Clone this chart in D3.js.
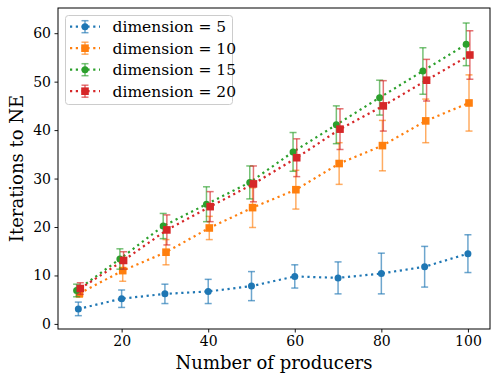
<!DOCTYPE html>
<html>
<head>
<meta charset="utf-8">
<script src="https://cdn.jsdelivr.net/npm/d3@7"></script>
<style>
  body { margin: 0; background: #fff; }
  svg { display: block; }
</style>
</head>
<body>
<script>
// data
const producers = [10, 20, 30, 40, 50, 60, 70, 80, 90, 100];
const dims = ["dimension = 5", "dimension = 10", "dimension = 15", "dimension = 20"];

const dim5 = [3.1, 5.2, 6.2, 6.7, 7.8, 9.8, 9.5, 10.4, 11.8, 14.5];
const dim5Err = [1.4, 1.8, 2.0, 2.5, 3.0, 2.4, 3.3, 4.2, 4.2, 3.9];
const dim10 = [6.3, 11.0, 14.8, 19.8, 24.0, 27.7, 33.1, 36.8, 41.9, 45.6];
const dim10Err = [0.8, 2.2, 2.6, 2.4, 4.1, 4.0, 4.3, 5.2, 4.5, 5.8];
const dim15 = [6.9, 13.4, 20.2, 24.7, 29.2, 35.5, 41.1, 46.7, 52.2, 57.7];
const dim15Err = [1.3, 2.1, 2.6, 3.6, 3.4, 4.0, 3.9, 3.6, 4.8, 4.4];
const dim20 = [7.3, 13.1, 19.4, 24.2, 28.9, 34.3, 40.2, 45.0, 50.3, 55.5];
const dim20Err = [1.2, 1.8, 3.1, 3.1, 3.7, 3.9, 4.2, 5.2, 4.3, 5.0];

const xTicks = [20, 40, 60, 80, 100];
const yTicks = [0, 10, 20, 30, 40, 50, 60];

let canvasW = 499;
let canvasH = 384;
let mLeft = 58, mRight = 490, mTop = 8, mBottom = 329;

let colors = ["#1f77b4", "#ff7f0e", "#2ca02c", "#d62728"];
let shapes = ["circle", "square", "circle", "square"];
let shift = [0, 0.25, -0.4, 0.45]; // small x nudge seen in the picture
let errs = [dim5Err, dim10Err, dim15Err, dim20Err];

let series = [dim5, dim10, dim15, dim20].map((vals, i) => ({
  name: dims[i],
  color: colors[i],
  shape: shapes[i],
  pts: vals.map((v, j) => ({ x: producers[j] + shift[i], y: v, e: errs[i][j] }))
}));

let xScale = d3.scaleLinear().domain([5.3, 105.1]).range([mLeft, mRight]);
let yScale = d3.scaleLinear().domain([-1.05, 65.2]).range([mBottom, mTop]);

let svg = d3.select("body")
  .append("svg")
    .attr("width", canvasW)
    .attr("height", canvasH)
    .style("font-family", "'DejaVu Serif', serif");

let plot = svg.append("g");

let line = d3.line().x(d => xScale(d.x)).y(d => yScale(d.y));

series.forEach(s => {
  let g = plot.append("g");
  g.append("path")
    .datum(s.pts)
    .attr("d", line)
    .attr("fill", "none")
    .attr("stroke", s.color)
    .attr("stroke-width", 2.2)
    .attr("stroke-dasharray", "2.2,3.6");

  let bars = g.selectAll(".eb").data(s.pts).enter().append("g")
    .attr("stroke", s.color)
    .attr("stroke-opacity", 0.65)
    .attr("stroke-width", 1.5);
  bars.append("line")
    .attr("x1", d => xScale(d.x)).attr("x2", d => xScale(d.x))
    .attr("y1", d => yScale(d.y - d.e)).attr("y2", d => yScale(d.y + d.e));
  bars.append("line")
    .attr("x1", d => xScale(d.x) - 3.5).attr("x2", d => xScale(d.x) + 3.5)
    .attr("y1", d => yScale(d.y + d.e)).attr("y2", d => yScale(d.y + d.e));
  bars.append("line")
    .attr("x1", d => xScale(d.x) - 3.5).attr("x2", d => xScale(d.x) + 3.5)
    .attr("y1", d => yScale(d.y - d.e)).attr("y2", d => yScale(d.y - d.e));

  if (s.shape == "circle") {
    g.selectAll(".mk").data(s.pts).enter().append("circle")
      .attr("cx", d => xScale(d.x))
      .attr("cy", d => yScale(d.y))
      .attr("r", 3.5)
      .attr("fill", s.color);
  } else {
    g.selectAll(".mk").data(s.pts).enter().append("rect")
      .attr("x", d => xScale(d.x) - 3.8)
      .attr("y", d => yScale(d.y) - 3.8)
      .attr("width", 7.6)
      .attr("height", 7.6)
      .attr("fill", s.color);
  }
});

// axes
const xAxis = svg.append("g")
  .attr("transform", "translate(0," + mBottom + ")")
  .call(d3.axisBottom(xScale).tickValues(xTicks).tickSize(3.5).tickPadding(3.5));
const yAxis = svg.append("g")
  .attr("transform", "translate(" + mLeft + ",0)")
  .call(d3.axisLeft(yScale).tickValues(yTicks).tickSize(3.5).tickPadding(3.5));
[xAxis, yAxis].forEach(a => {
  a.select(".domain").remove();
  a.selectAll("text").attr("font-family", "'DejaVu Serif', serif").attr("font-size", "14px").attr("fill", "#000");
  a.selectAll("line").attr("stroke", "#000").attr("stroke-width", 0.9);
});

svg.append("rect")
  .attr("x", mLeft).attr("y", mTop)
  .attr("width", mRight - mLeft).attr("height", mBottom - mTop)
  .attr("fill", "none")
  .attr("stroke", "#000")
  .attr("stroke-width", 1);

svg.append("text")
  .attr("x", (mLeft + mRight) / 2)
  .attr("y", 369)
  .attr("text-anchor", "middle")
  .attr("font-size", "18px")
  .text("Number of producers");

svg.append("text")
  .attr("text-anchor", "middle")
  .attr("font-size", "18px")
  .attr("transform", "translate(23," + ((mTop + mBottom) / 2) + ") rotate(-90)")
  .text("Iterations to NE");

// legend
let legend = svg.append("g");
legend.append("rect")
  .attr("x", 65.5).attr("y", 15.5)
  .attr("width", 167).attr("height", 89)
  .attr("rx", 3)
  .attr("fill", "#fff")
  .attr("fill-opacity", 0.8)
  .attr("stroke", "#ccc")
  .attr("stroke-width", 1);

series.forEach((s, i) => {
  let yy = 26.7 + i * 21.5;
  let row = legend.append("g");
  row.append("line")
    .attr("x1", 70).attr("x2", 100).attr("y1", yy).attr("y2", yy)
    .attr("stroke", s.color).attr("stroke-width", 2.2).attr("stroke-dasharray", "2.2,3.6");
  row.append("line")
    .attr("x1", 85).attr("x2", 85).attr("y1", yy - 6).attr("y2", yy + 6)
    .attr("stroke", s.color).attr("stroke-opacity", 0.65).attr("stroke-width", 1.5);
  row.append("line")
    .attr("x1", 81.5).attr("x2", 88.5).attr("y1", yy - 6).attr("y2", yy - 6)
    .attr("stroke", s.color).attr("stroke-opacity", 0.65).attr("stroke-width", 1.5);
  row.append("line")
    .attr("x1", 81.5).attr("x2", 88.5).attr("y1", yy + 6).attr("y2", yy + 6)
    .attr("stroke", s.color).attr("stroke-opacity", 0.65).attr("stroke-width", 1.5);
  if (s.shape == "circle") {
    row.append("circle").attr("cx", 85).attr("cy", yy).attr("r", 3.5).attr("fill", s.color);
  } else {
    row.append("rect").attr("x", 81.2).attr("y", yy - 3.8).attr("width", 7.6).attr("height", 7.6).attr("fill", s.color);
  }
  row.append("text")
    .attr("x", 112.5)
    .attr("y", yy)
    .attr("dy", "0.35em")
    .attr("font-size", "15.5px")
    .text(s.name);
});
</script>
</body>
</html>
